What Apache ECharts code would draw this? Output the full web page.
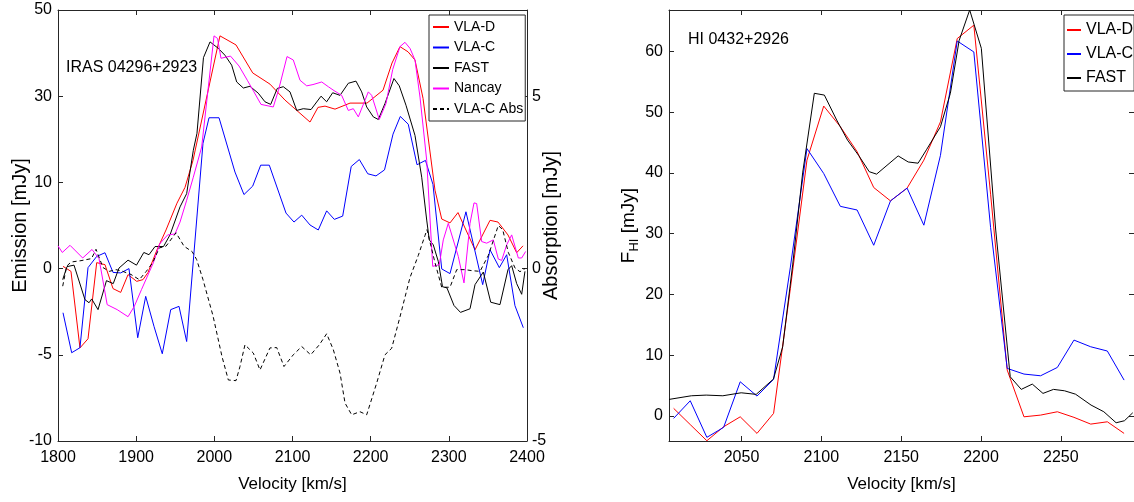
<!DOCTYPE html>
<html><head><meta charset="utf-8">
<script src="https://cdn.jsdelivr.net/npm/echarts@6/dist/echarts.min.js"></script>
<style>html,body{margin:0;padding:0;background:#fff}#c{width:1134px;height:502px}</style>
</head><body><div id="c"></div>
<script>
// ---------- LEFT PANEL (IRAS 04296+2923) ----------
const emisTicks = [-10, -5, 0, 10, 30, 50];   // left axis tick labels (equally spaced)
const absTicks = [-5, 0, 5];
const absMax = 7.5;
const velTicksL = [1800, 1900, 2000, 2100, 2200, 2300, 2400];

const vlaD_L = [[1806.4,0.26],[1816.6,-0.16],[1828.1,-4.6],[1838.4,-4.07],[1849.5,0.69],[1860.1,0.46],[1870.4,-1.16],[1880.2,-1.38],[1889.6,-0.35],[1900.7,-0.74],[1908.7,-0.64],[1915.1,-0.23],[1926.7,2.18],[1938.2,4.48],[1952.2,7.59],[1962.5,9.43],[1972.7,15.1],[2007.2,44.0],[2027.7,41.9],[2049.1,35.4],[2071.2,32.8],[2090.4,29.1],[2122.4,24.0],[2132.6,27.4],[2141.6,27.7],[2154.4,27.0],[2173.6,28.4],[2195.3,28.4],[2215.8,31.4],[2227.3,37.7],[2237.5,41.5],[2247.8,40.3],[2256.7,38.4],[2267.0,29.5],[2282.3,9.1],[2290.9,5.75],[2301.5,5.3],[2311.7,6.5],[2333.5,2.18],[2352.7,5.6],[2362.9,5.4],[2375.7,3.9],[2386.8,1.84],[2394.9,2.64]];

const vlaC_L = [[1806.4,-2.56],[1817.5,-4.88],[1828.1,-4.59],[1838.4,0.11],[1849.5,1.41],[1860.1,1.84],[1870.4,-0.22],[1880.2,-0.25],[1890.8,0],[1902.0,-4.01],[1912.2,-1.61],[1922.8,-3.35],[1933.4,-4.94],[1944.2,-2.38],[1954.8,-2.19],[1964.6,-4.23],[1985.5,19.07],[1993.2,25.0],[2006.0,25.0],[2026.4,12.4],[2037.9,8.59],[2049.1,9.57],[2059.3,14.0],[2070.3,14.0],[2091.7,6.44],[2101.9,5.40],[2111.8,6.2],[2122.4,5.06],[2133.0,4.48],[2143.7,6.7],[2153.5,5.71],[2164.2,6.09],[2175.1,13.7],[2185.5,15.3],[2196.3,12.0],[2206.8,11.5],[2217.7,12.9],[2228.6,21.2],[2237.9,25.3],[2248.1,23.5],[2259.3,14.1],[2270.1,15.1],[2279.7,9.77],[2290.9,-0.02],[2301.5,-0.29],[2321.9,6.59],[2343.3,-0.93],[2352.7,2.18],[2364.6,0.11],[2374.0,1.61],[2384.6,-2.15],[2395.3,-3.43]];

const fast_L = [[1806.0,-0.64],[1811.5,0.23],[1820.5,0.40],[1834.5,-1.80],[1839.7,-1.98],[1843.1,-1.76],[1851.2,-2.38],[1862.0,-0.70],[1870.7,-0.87],[1878.0,0.06],[1889.6,0.98],[1900.4,0.40],[1909.8,1.87],[1916.4,1.61],[1924.1,2.56],[1935.0,2.56],[1943.3,3.91],[1956.1,7.16],[1964.6,8.70],[1973.1,17.44],[1977.8,21.4],[1986.1,38.95],[1994.5,42.6],[2005.1,41.1],[2013.6,39.5],[2022.2,37.2],[2028.6,33.3],[2037.1,31.9],[2045.6,32.3],[2056.2,30.7],[2064.8,28.7],[2072.1,28.1],[2080.5,31.8],[2088.2,32.2],[2096.8,31.0],[2105.4,26.7],[2113.8,27.1],[2123.7,26.9],[2136.5,30.0],[2143.7,28.7],[2151.4,30.8],[2160.8,30.2],[2171.4,33.0],[2181.2,33.5],[2188.5,31.0],[2194.9,27.5],[2203.4,25.2],[2209.8,24.6],[2218.3,28.3],[2229.8,34.1],[2236.6,32.4],[2245.2,27.9],[2256.7,20.9],[2265.3,11.2],[2271.7,5.63],[2275.0,3.33],[2280.1,2.76],[2286.5,0.84],[2291.9,-1.05],[2297.6,-1.12],[2306.6,-2.14],[2314.9,-2.54],[2327.1,-2.33],[2333.5,-0.93],[2344.1,-0.20],[2353.6,-1.95],[2365.4,-2.09],[2375.7,-0.06],[2380.4,0.34],[2386.8,-0.87],[2393.2,-1.49],[2397.4,-0.16]];

const nancay_L = [[1800.0,2.64],[1805.5,1.87],[1815.4,2.70],[1831.6,1.23],[1843.5,2.22],[1852.5,1.15],[1862.9,-2.09],[1875.7,-2.38],[1889.6,-2.79],[1897.6,-2.19],[1906.8,-1.22],[1921.9,0.66],[1930.1,2.87],[1940.3,3.91],[1949.7,4.02],[1956.1,5.40],[1964.6,7.93],[1973.1,11.2],[1983.8,18.2],[1999.6,44.0],[2004.1,43.4],[2008.5,38.8],[2020.7,39.3],[2031.6,37.0],[2042.2,33.7],[2050.7,31.0],[2059.7,28.1],[2075.4,27.5],[2082.1,31.4],[2093.0,39.2],[2101.0,38.4],[2109.6,33.7],[2118.2,32.4],[2126.2,32.7],[2137.4,33.3],[2145.8,32.2],[2153.1,31.3],[2162.9,30.2],[2171.4,26.7],[2177.8,27.1],[2184.2,25.2],[2197.0,31.0],[2201.3,30.2],[2211.0,24.6],[2219.6,28.3],[2228.2,36.2],[2237.5,41.5],[2243.9,42.5],[2250.3,41.1],[2256.7,38.4],[2263.1,29.8],[2271.7,15.1],[2279.4,0.26],[2287.8,0.46],[2292.9,3.33],[2299.3,5.25],[2312.1,1.41],[2319.4,-0.83],[2327.1,5.25],[2332.2,7.62],[2335.6,7.55],[2342.0,3.14],[2348.4,2.95],[2356.9,3.33],[2363.3,1.11],[2367.6,0.95],[2374.0,2.76],[2380.4,3.91],[2388.9,1.23],[2393.2,1.23],[2398.3,1.99]];

const vlaCAbs_L = [[1806.0,-0.51],[1811.1,0.07],[1816.6,0.19],[1829.4,0.23],[1842.9,0.29],[1848.6,0.56],[1857.6,0.03],[1865.6,-0.08],[1874.2,-0.03],[1882.8,-0.08],[1893.4,-0.17],[1904.0,-0.32],[1912.6,-0.09],[1921.1,0.17],[1929.6,0.60],[1938.2,0.65],[1951.0,1.04],[1961.2,0.65],[1971.7,0.49],[1977.4,0.26],[1985.5,-0.32],[1998.3,-1.37],[2009.8,-2.55],[2017.9,-3.23],[2027.7,-3.25],[2032.8,-2.84],[2039.2,-2.21],[2049.9,-2.45],[2058.4,-2.94],[2071.2,-2.30],[2079.8,-2.29],[2089.1,-2.84],[2101.0,-2.50],[2111.8,-2.26],[2123.3,-2.50],[2134.3,-2.21],[2143.7,-1.89],[2152.2,-2.35],[2160.8,-3.03],[2167.2,-3.90],[2175.7,-4.24],[2186.3,-4.15],[2194.9,-4.24],[2207.7,-3.32],[2218.3,-2.50],[2226.9,-2.31],[2237.5,-1.40],[2250.3,-0.26],[2260.9,0.38],[2269.5,0.96],[2272.1,1.13],[2282.3,0.17],[2290.9,-0.54],[2301.5,-0.54],[2310.1,-0.03],[2320.7,-0.03],[2329.6,-0.06],[2339.9,-0.08],[2350.5,0.38],[2363.3,1.25],[2368.9,1.13],[2376.1,0.47],[2384.6,0.02],[2391.0,-0.09],[2397.4,0.00]];

// ---------- RIGHT PANEL (HI 0432+2926) ----------
const velTicksR = [2050, 2100, 2150, 2200, 2250];
const fluxTicksR = [0, 10, 20, 30, 40, 50, 60];
const vlaVel_R = [2007.5,2017.9,2028.3,2038.8,2049.2,2059.7,2070.1,2080.6,2091.0,2101.5,2111.9,2122.4,2132.8,2143.3,2153.7,2164.2,2174.6,2185.1,2195.5,2206.0,2216.4,2226.9,2237.3,2247.8,2258.2,2268.7,2279.1,2289.6];
const vlaD_R = [1.27,-1.4,-4.06,-1.76,-0.12,-2.85,0.44,21,42.1,51.0,47.6,43.5,37.6,35.4,37.5,42.1,48.4,62.1,64.3,36.5,7.57,-0.12,0.16,0.71,-0.21,-1.32,-0.94,-2.85];
const vlaC_R = [-0.38,2.52,-3.5,-1.86,5.64,3.29,6.04,24.5,44.0,39.9,34.5,33.9,28.1,35.4,37.5,31.4,42.9,61.7,59.9,31,7.84,6.91,6.63,8.0,12.5,11.4,10.7,5.92];
const fast_R = [[2004.6,2.74],[2018.6,3.34],[2027.9,3.45],[2038.3,3.34],[2049.8,3.83],[2059.2,3.57],[2070.0,6.09],[2075.8,11.4],[2082.1,25],[2088.3,40],[2095.6,53.1],[2101.9,52.8],[2109.6,48.7],[2116.4,45.4],[2123.3,42.9],[2130.0,40.2],[2134.6,39.8],[2148.1,42.8],[2154.4,41.8],[2160.6,41.6],[2165.8,43.8],[2174.6,47.6],[2180.8,53.1],[2186.3,61.8],[2192.9,66.8],[2200.2,60.5],[2209.2,30.6],[2218.3,6.46],[2225.2,4.39],[2232.1,5.26],[2238.8,3.73],[2245.4,4.39],[2252.3,4.16],[2259.2,3.6],[2268.9,1.81],[2276.9,0.71],[2284.6,-1.10],[2289.8,-0.77],[2295.0,0.54]];

// ---------- build ----------
// left emission axis is piecewise: equally spaced ticks at emisTicks
function emisPos(v) {
  const t = emisTicks;
  let i = 0;
  while (i < t.length - 2 && v > t[i + 1]) i++;
  return i + (v - t[i]) / (t[i + 1] - t[i]);
}
const toEmis = arr => arr.map(p => [p[0], emisPos(p[1])]);
const zip = (xs, ys) => xs.map((x, i) => [x, ys[i]]);

const AX = '#262626';
const FONT = "'Liberation Sans', Arial, Helvetica, sans-serif";
const lbl = (extra) => Object.assign({color: '#000', fontSize: 16, fontFamily: FONT}, extra || {});
function xAx(grid, min, max, pos, show, ticks, name) {
  const a = {
    gridIndex: grid, type: 'value', min: min, max: max, position: pos,
    axisLine: {show: true, onZero: false, lineStyle: {color: AX, width: 1}},
    axisTick: {show: true, inside: true, length: 5, lineStyle: {color: AX}},
    axisLabel: lbl({show: show, margin: 9, formatter: v => String(v)}),
    splitLine: {show: false}
  };
  if (ticks.interval) { a.interval = ticks.interval; }
  else { a.axisTick.customValues = ticks.values; a.axisLabel.customValues = ticks.values; }
  if (name) {
    a.name = name; a.nameLocation = 'middle'; a.nameGap = 35; a.nameMoveOverlap = false;
    a.nameTextStyle = {color: '#000', fontSize: 17, fontFamily: FONT};
  }
  return a;
}
function yAx(grid, min, max, pos, show, ticks, fmt) {
  const a = {
    gridIndex: grid, type: 'value', min: min, max: max, position: pos,
    axisLine: {show: true, onZero: false, lineStyle: {color: AX, width: 1}},
    axisTick: {show: true, inside: true, length: 5, lineStyle: {color: AX}},
    axisLabel: lbl({show: show, margin: 6, formatter: fmt || (v => String(v))}),
    splitLine: {show: false}
  };
  if (ticks.interval) { a.interval = ticks.interval; }
  else { a.axisTick.customValues = ticks.values; a.axisLabel.customValues = ticks.values; }
  return a;
}

const yEm = yAx(0, 0, emisTicks.length - 1, 'left', true, {interval: 1}, v => String(emisTicks[Math.round(v)]));
yEm.name = 'Emission [mJy]'; yEm.nameLocation = 'middle'; yEm.nameGap = 28; yEm.nameRotate = 90;
yEm.nameMoveOverlap = false;
yEm.nameTextStyle = {color: '#000', fontSize: 20, fontFamily: FONT};

const yAbs = yAx(0, absTicks[0], absMax, 'right', true, {values: absTicks});
yAbs.name = 'Absorption [mJy]'; yAbs.nameLocation = 'middle'; yAbs.nameGap = 14; yAbs.nameRotate = 90;
yAbs.nameMoveOverlap = false;
yAbs.nameTextStyle = {color: '#000', fontSize: 20, fontFamily: FONT};
yAbs.axisLabel.margin = 5;

const yF = yAx(1, -4.1, 66.8, 'left', true, {values: fluxTicksR});
yF.name = '{f|F}{s|HI}{f| [mJy]}'; yF.nameLocation = 'middle'; yF.nameGap = 28; yF.nameRotate = 90;
yF.nameMoveOverlap = false;
yF.nameTextStyle = {rich: {
  f: {color: '#000', fontSize: 19, fontFamily: FONT},
  s: {color: '#000', fontSize: 13, fontFamily: FONT, padding: [12, 0, 0, 0]}
}};

const line = (name, data, color, xi, yi, dashed) => ({
  name: name, type: 'line', data: data, xAxisIndex: xi, yAxisIndex: yi,
  symbol: 'none', showSymbol: false, silent: true, animation: false,
  lineStyle: {color: color, width: 1, type: dashed ? [4, 3] : 'solid'},
  itemStyle: {color: color}, emphasis: {disabled: true}, z: 3
});

const legendBase = {
  orient: 'vertical', borderColor: AX, borderWidth: 1, borderRadius: 0, backgroundColor: '#fff',
  selectedMode: false, itemStyle: {opacity: 0, color: 'rgba(0,0,0,0)', borderWidth: 0}
};

const option = {
  backgroundColor: '#fff',
  animation: false,
  textStyle: {fontFamily: FONT},
  grid: [
    {left: 58, top: 10, width: 469, height: 431},
    {left: 669, top: 10, width: 466, height: 431}
  ],
  title: [
    {text: 'IRAS 04296+2923', left: 66, top: 60, padding: 0,
     textStyle: {fontSize: 16, fontWeight: 'normal', color: '#000', fontFamily: FONT}},
    {text: 'HI 0432+2926', left: 688, top: 32, padding: 0,
     textStyle: {fontSize: 16, fontWeight: 'normal', color: '#000', fontFamily: FONT}}
  ],
  legend: [
    Object.assign({}, legendBase, {data: ['VLA-D', 'VLA-C', 'FAST', 'Nancay', 'VLA-C Abs'],
     left: 429, top: 15, itemWidth: 16, itemHeight: 14, itemGap: 6.5, padding: [5, 2, 5, 3],
     textStyle: {fontSize: 14, lineHeight: 14, color: '#000', fontFamily: FONT}}),
    Object.assign({}, legendBase, {data: ['VLA-D', 'VLA-C', 'FAST'],
     left: 1064, top: 15, itemWidth: 14, itemHeight: 16, itemGap: 8, padding: [7, 1, 5, 2],
     textStyle: {fontSize: 16, lineHeight: 16, color: '#000', fontFamily: FONT}})
  ],
  xAxis: [
    xAx(0, velTicksL[0], velTicksL[velTicksL.length - 1], 'bottom', true, {interval: 100}, 'Velocity [km/s]'),
    xAx(0, velTicksL[0], velTicksL[velTicksL.length - 1], 'top', false, {interval: 100}),
    xAx(1, 2004.6, 2295.8, 'bottom', true, {values: velTicksR}, 'Velocity [km/s]'),
    xAx(1, 2004.6, 2295.8, 'top', false, {values: velTicksR})
  ],
  yAxis: [
    yEm,
    yAbs,
    yF,
    yAx(1, -4.1, 66.8, 'right', false, {values: fluxTicksR})
  ],
  series: [
    line('VLA-D', toEmis(vlaD_L), '#ff0000', 0, 0),
    line('VLA-C', toEmis(vlaC_L), '#0000ff', 0, 0),
    line('FAST', toEmis(fast_L), '#000000', 0, 0),
    line('Nancay', toEmis(nancay_L), '#ff00ff', 0, 0),
    line('VLA-C Abs', vlaCAbs_L, '#000000', 0, 1, true),
    line('VLA-D', zip(vlaVel_R, vlaD_R), '#ff0000', 2, 2),
    line('VLA-C', zip(vlaVel_R, vlaC_R), '#0000ff', 2, 2),
    line('FAST', fast_R, '#000000', 2, 2)
  ]
};
const chart = echarts.init(document.getElementById('c'), null, {renderer: 'canvas'});
chart.setOption(option);
</script></body></html>
